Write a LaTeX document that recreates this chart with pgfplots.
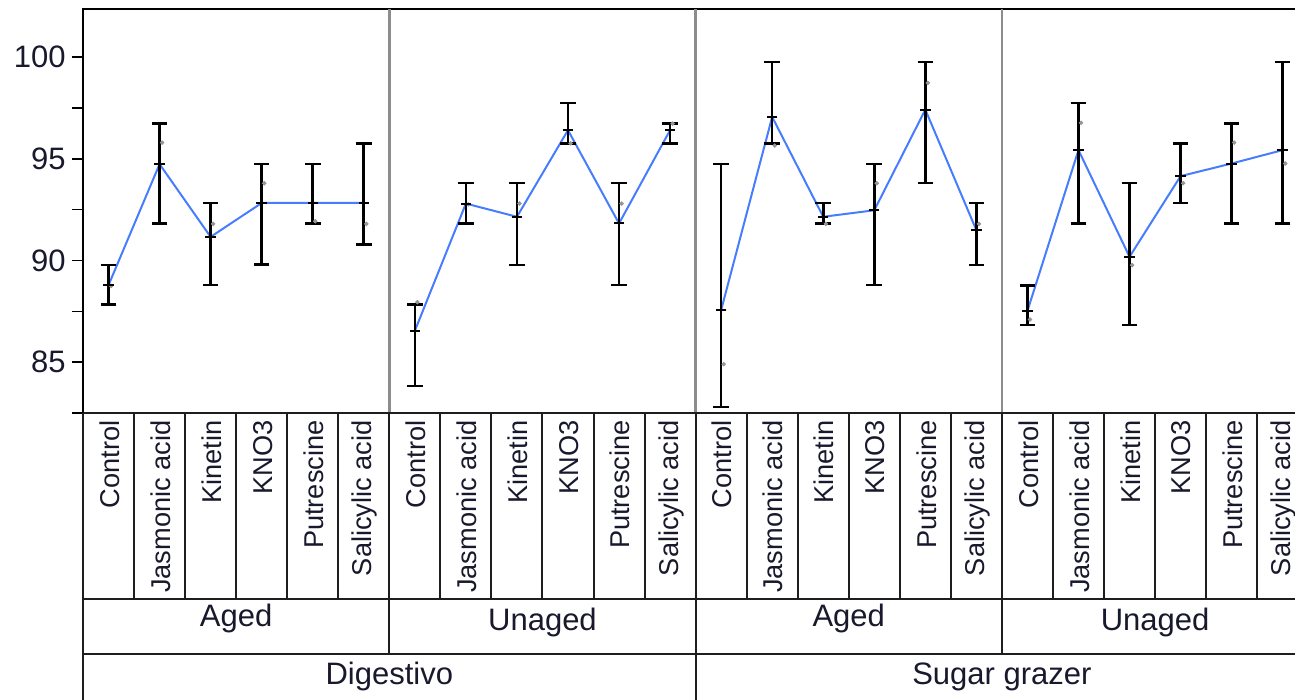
\documentclass[border=0pt]{standalone}
\usepackage{fontspec}
\setmainfont{Liberation Sans}
\usepackage{pgfplots}
\usepackage{pgfplotstable}
\pgfplotsset{compat=1.18}
\definecolor{jblue}{RGB}{70,125,255}
\definecolor{sepgray}{RGB}{140,140,140}
\definecolor{dotgray}{RGB}{150,150,150}
\definecolor{txt}{RGB}{25,25,45}
\definecolor{tline}{RGB}{30,30,30}

% x = category index, m = mean, lo/hi = range, d = middle observation
\pgfplotstableread{
x m lo hi d
0 88.79 87.85 89.77 88.75
1 94.74 91.82 96.75 95.80
2 91.16 88.79 92.83 91.80
3 92.83 89.80 94.74 93.80
4 92.83 91.82 94.74 91.93
5 92.83 90.80 95.76 91.80
}\pA
\pgfplotstableread{
x m lo hi d
6 86.54 83.82 87.85 87.95
7 92.80 91.82 93.82 92.76
8 92.15 89.77 93.82 92.80
9 96.41 95.76 97.75 95.76
10 91.82 88.79 93.82 92.80
11 96.41 95.76 96.74 96.73
}\pB
\pgfplotstableread{
x m lo hi d
12 87.56 82.80 94.74 84.90
13 97.06 95.76 99.77 95.65
14 92.15 91.82 92.83 91.80
15 92.47 88.79 94.74 93.80
16 97.42 93.82 99.77 98.74
17 91.49 89.77 92.83 91.80
}\pC
\pgfplotstableread{
x m lo hi d
18 87.52 86.82 88.77 87.10
19 95.43 91.82 97.75 96.77
20 90.18 86.82 93.82 89.77
21 94.15 92.83 95.76 93.80
22 94.77 91.82 96.74 95.80
23 95.43 91.82 99.77 94.77
}\pD

\newcommand{\panelplots}[1]{%
  \addplot[jblue, line width=1pt, mark=none] table[x=x,y=m]{#1};
  \addplot[only marks, mark=*, mark size=0.9pt, dotgray] table[x expr=\thisrow{x}+0.05,y=d]{#1};
  \addplot[only marks, mark=-, mark size=2.6pt, black, line width=1pt,
    error bars/.cd, y dir=both, y explicit,
    error bar style={black, line width=1.3pt},
    error mark options={rotate=90, black, line width=1.3pt, mark size=3.9pt}]
    table[x=x, y=m, y error plus expr=\thisrow{hi}-\thisrow{m}, y error minus expr=\thisrow{m}-\thisrow{lo}]{#1};
}

\begin{document}
\begin{tikzpicture}
\useasboundingbox (0,0) rectangle (647.5pt,350pt);
\clip (0,0) rectangle (647.5pt,350pt);
\begin{axis}[
  at={(41.5pt,143.5pt)}, anchor=south west,
  scale only axis, width=612.6pt, height=201.8pt,
  xmin=-0.5, xmax=23.5, ymin=82.5, ymax=102.35,
  xtick=\empty,
  ytick={85,90,95,100},
  minor ytick={82.5,87.5,92.5,97.5},
  ytick pos=left, tick align=outside,
  major tick length=5.5pt, minor tick length=5.5pt,
  tick style={black, line width=0.8pt},
  axis line style={black, line width=1pt},
  /pgf/number format/assume math mode=true,
  yticklabel style={font=\fontsize{15.5}{18}\selectfont, text=txt, inner sep=3pt},
]
\draw[sepgray, line width=1.2pt] (axis cs:5.5,82.5) -- (axis cs:5.5,102.35);
\draw[sepgray, line width=1.2pt] (axis cs:11.5,82.5) -- (axis cs:11.5,102.35);
\draw[sepgray, line width=1.2pt] (axis cs:17.5,82.5) -- (axis cs:17.5,102.35);
\panelplots{\pA}
\panelplots{\pB}
\panelplots{\pC}
\panelplots{\pD}
\end{axis}

% label table below the plot
\begin{scope}[tline, line width=1pt]
  \draw (41.5pt,143.5pt) -- (660pt,143.5pt);
  \draw (41.5pt,50.5pt) -- (660pt,50.5pt);
  \draw (41.5pt,23pt) -- (660pt,23pt);
  \draw (41.5pt,143.5pt) -- (41.5pt,-5pt);
  \foreach \k in {1,...,23} {
    \pgfmathsetmacro\xx{41.5+25.525*\k}
    \draw (\xx pt,143.5pt) -- (\xx pt,50.5pt);
  }
  \foreach \k in {6,12,18} {
    \pgfmathsetmacro\xx{41.5+25.525*\k}
    \draw (\xx pt,50.5pt) -- (\xx pt,23pt);
  }
  \pgfmathsetmacro\xx{41.5+25.525*12}
  \draw (\xx pt,23pt) -- (\xx pt,-5pt);
\end{scope}

\foreach \p in {0,6,12,18} {
  \foreach \j/\n in {0/Control,1/Jasmonic acid,2/Kinetin,3/KNO3,4/Putrescine,5/Salicylic acid} {
    \pgfmathsetmacro\xx{41.5+25.525*(\p+\j+0.5)+0.5}
    \node[rotate=90, anchor=east, inner sep=0pt, text=txt, font=\fontsize{13.6}{16}\selectfont] at (\xx pt,140pt) {\n};
  }
}
\foreach \c/\n/\b in {3/Aged/36.5, 9/Unaged/34.7, 15/Aged/36.5, 21/Unaged/34.7} {
  \pgfmathsetmacro\xx{41.5+25.525*\c}
  \node[anchor=base, inner sep=0pt, text=txt, font=\fontsize{15.5}{18}\selectfont] at (\xx pt,\b pt) {\n};
}
\foreach \c/\n in {6/Digestivo, 18/Sugar grazer} {
  \pgfmathsetmacro\xx{41.5+25.525*\c}
  \node[anchor=base, inner sep=0pt, text=txt, font=\fontsize{15.5}{18}\selectfont] at (\xx pt,7.5pt) {\n};
}
\end{tikzpicture}
\end{document}
